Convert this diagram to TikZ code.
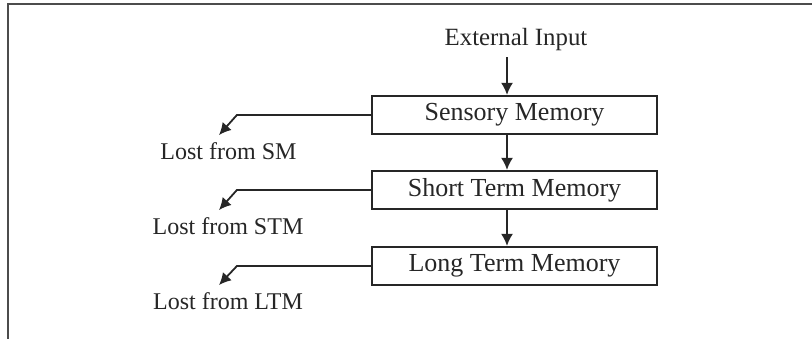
\documentclass[tikz,border=0pt]{standalone}
\usepackage{fontspec}
\setmainfont{Liberation Serif}
\usetikzlibrary{arrows.meta}

\begin{document}
\begin{tikzpicture}[x=0.5pt,y=-0.5pt,black!85,
    memory/.style={draw,line width=1.1pt,minimum width=142.5pt,minimum height=19pt,inner sep=0pt,font=\fontsize{13}{15}\selectfont},
    lost/.style={anchor=base,font=\fontsize{12}{14}\selectfont},
    flow/.style={line width=0.9pt,-{Latex[length=6pt,width=6pt]}}]
    \useasboundingbox (0,0) rectangle (812,339);
    \draw[line width=1.4pt,black!70] (812,4)--(8,4)--(8,339);

    \node (input) at (516,45)[anchor=base,font=\fontsize{12.4}{14}\selectfont]{External Input};
    \node (sm) at (514.5,115)[memory]{Sensory Memory};
    \node (stm) at (514.5,190)[memory]{Short Term Memory};
    \node (ltm) at (514.5,266)[memory]{Long Term Memory};
    \node (lostsm) at (228.5,159)[lost]{Lost from SM};
    \node (loststm) at (228,234)[lost]{Lost from STM};
    \node (lostltm) at (228,309)[lost]{Lost from LTM};

    \draw[flow] ([xshift=-3.75pt]sm.north |- input.south)--([xshift=-3.75pt]sm.north);
    \draw[flow] ([xshift=-3.75pt]sm.south)--([xshift=-3.75pt]stm.north);
    \draw[flow] ([xshift=-3.75pt]stm.south)--([xshift=-3.75pt]ltm.north);

    \draw[flow] (sm.west)--++(-134,0)--([xshift=-4.75pt]lostsm.north);
    \draw[flow] (stm.west)--++(-134,0)--([xshift=-4.5pt]loststm.north);
    \draw[flow] (ltm.west)--++(-134,0)--([xshift=-4.5pt]lostltm.north);
\end{tikzpicture}
\end{document}
